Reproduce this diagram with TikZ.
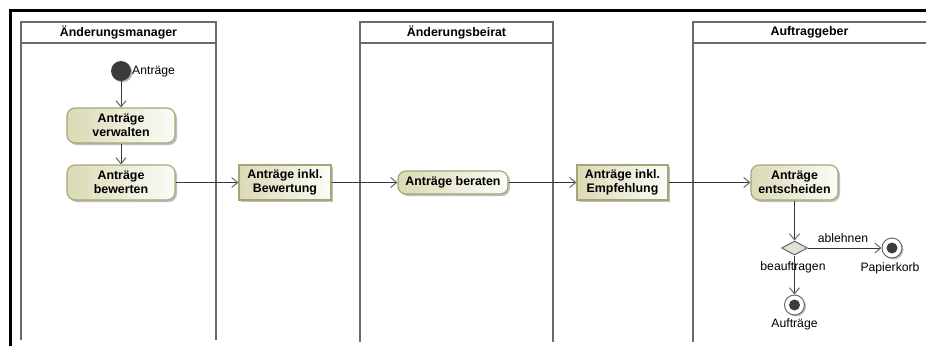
\documentclass[tikz,border=0pt]{standalone}
\usepackage{fontspec}
\setmainfont{Liberation Sans}
\usetikzlibrary{arrows.meta,shapes.geometric,shadows}
\definecolor{lanec}{RGB}{105,105,105}
\definecolor{nodeborder}{RGB}{165,165,120}
\definecolor{nodefill}{RGB}{218,218,180}
\definecolor{connc}{RGB}{55,55,55}
\definecolor{tipc}{RGB}{105,105,105}
\definecolor{startc}{RGB}{60,60,60}
\definecolor{decfill}{RGB}{225,225,212}
\begin{document}
\begin{tikzpicture}[x=1pt,y=-1pt,
  act/.style={draw=nodeborder, line width=1.1pt, rounded corners=8pt,
    left color=nodefill, right color=white!92!nodefill, align=center,
    font=\bfseries\fontsize{12.4}{14}\selectfont, inner sep=0pt,
    drop shadow={shadow xshift=2pt, shadow yshift=-2pt, opacity=0.25, fill=black}},
  obj/.style={act, rounded corners=0pt},
  hdr/.style={font=\bfseries\fontsize{12.4}{14}\selectfont, inner sep=0pt},
  lbl/.style={font=\fontsize{12.2}{14}\selectfont, inner sep=0pt},
  lanel/.style={draw=lanec, line width=1.8pt},
  conn/.style={draw=connc, line width=0.8pt,
    -{Straight Barb[length=6pt, width=10pt, line width=1pt, color=tipc]}},
  startn/.style={circle, fill=startc, minimum size=20pt, inner sep=0pt,
    drop shadow={shadow xshift=1.5pt, shadow yshift=-1.5pt, opacity=0.25, fill=black}},
  finaln/.style={circle, draw=tipc, line width=1pt, fill=white, minimum size=20pt, inner sep=0pt,
    drop shadow={shadow xshift=1.5pt, shadow yshift=-1.5pt, opacity=0.25, fill=black}},
  decn/.style={diamond, draw=tipc, line width=1pt, fill=decfill, minimum width=26pt,
    minimum height=14pt, inner sep=0pt}
]
\useasboundingbox (0,0) rectangle (926,346);
\fill[white] (0,0) rectangle (926,346);

% outer frame
\draw[black, line width=2.5pt] (10.5,346) -- (10.5,10.5) -- (926,10.5);

% swimlanes
\draw[lanel] (21,22) rectangle (216,43);
\draw[lanel] (21,43) -- (21,340);
\draw[lanel] (216,43) -- (216,340);
\draw[lanel] (360,22) rectangle (553,43);
\draw[lanel] (360,43) -- (360,342);
\draw[lanel] (553,43) -- (553,342);
\draw[lanel] (926,22) -- (693,22) -- (693,342);
\draw[lanel] (693,43) -- (926,43);

\node[hdr] (h1) at (118.5,32.5) {Änderungsmanager};
\node[hdr] (h2) at (456.5,32.5) {Änderungsbeirat};
\node[hdr] (h3) at (809.5,32.5) {Auftraggeber};

% nodes
\node[startn] (start) at (121,71) {};
\node[lbl, anchor=west] (startlbl) at (132,71.5) {Anträge};

\node[act, minimum width=108pt, minimum height=35pt] (verw) at (121,125.5) {Anträge\\verwalten};
\node[act, minimum width=108pt, minimum height=35pt] (bew) at (121,182.5) {Anträge\\bewerten};
\node[obj, minimum width=92pt, minimum height=35pt] (bewobj) at (285,182.5) {Anträge inkl.\\Bewertung};
\node[act, minimum width=110pt, minimum height=23pt] (berat) at (453,182.5) {Anträge beraten};
\node[obj, minimum width=91pt, minimum height=35pt] (empf) at (622.5,182.5) {Anträge inkl.\\Empfehlung};
\node[act, minimum width=87pt, minimum height=35pt] (entsch) at (794.5,182.5) {Anträge\\entscheiden};

\node[decn] (dec) at (794.5,248) {};
\node[finaln] (fin1) at (892,248) {};
\fill[startc] (fin1.center) circle (5.5pt);
\node[finaln] (fin2) at (794.5,305) {};
\fill[startc] (fin2.center) circle (5.5pt);

\node[lbl] (abl) at (843,238) {ablehnen};
\node[lbl] (beauf) at (793,267) {beauftragen};
\node[lbl] (papk) at (890,268.5) {Papierkorb};
\node[lbl] (auftr) at (794.5,324.5) {Aufträge};

% connectors
\draw[conn] (start) -- (verw);
\draw[conn] (verw) -- (bew);
\draw[conn] (bew) -- (bewobj);
\draw[conn] (bewobj) -- (berat);
\draw[conn] (berat) -- (empf);
\draw[conn] (empf) -- (entsch);
\draw[conn] (entsch) -- (dec.north);
\draw[conn] (dec.east) -- (fin1);
\draw[conn] (dec.south) -- (fin2);
\end{tikzpicture}
\end{document}
